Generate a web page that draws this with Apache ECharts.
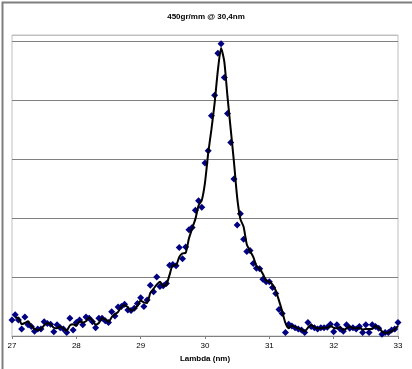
<!DOCTYPE html>
<html>
<head>
<meta charset="utf-8">
<script src="https://cdn.jsdelivr.net/npm/echarts@6/dist/echarts.min.js"></script>
<style>html,body{margin:0;padding:0;background:#fff}#c{width:412px;height:369px}</style>
</head>
<body>
<div id="c"></div>
<script>
var titleText = '450gr/mm @ 30,4nm';
var xAxisName = 'Lambda (nm)';
var xTicks = [27, 28, 29, 30, 31, 32, 33];

var lambda = [
27.00,27.05,27.10,27.15,27.20,27.25,27.30,27.35,27.40,27.45,
27.50,27.55,27.60,27.65,27.70,27.75,27.80,27.85,27.90,27.95,
28.00,28.05,28.10,28.15,28.20,28.25,28.30,28.35,28.40,28.45,
28.50,28.55,28.60,28.65,28.70,28.75,28.80,28.85,28.90,28.95,
29.00,29.05,29.10,29.15,29.20,29.25,29.30,29.35,29.40,29.45,
29.50,29.55,29.60,29.65,29.70,29.75,29.80,29.85,29.90,29.95,
30.00,30.05,30.10,30.15,30.20,30.25,30.30,30.35,30.40,30.45,
30.50,30.55,30.60,30.65,30.70,30.75,30.80,30.85,30.90,30.95,
31.00,31.05,31.10,31.15,31.20,31.25,31.30,31.35,31.40,31.45,
31.50,31.55,31.60,31.65,31.70,31.75,31.80,31.85,31.90,31.95,
32.00,32.05,32.10,32.15,32.20,32.25,32.30,32.35,32.40,32.45,
32.50,32.55,32.60,32.65,32.70,32.75,32.80,32.85,32.90,32.95,
33.00
];

var measured = [
0.27,0.36,0.27,0.12,0.32,0.19,0.16,0.08,0.12,0.12,
0.24,0.21,0.20,0.07,0.19,0.14,0.12,0.06,0.30,0.10,
0.23,0.27,0.19,0.32,0.30,0.24,0.14,0.30,0.30,0.26,
0.23,0.41,0.34,0.49,0.50,0.54,0.44,0.43,0.47,0.55,
0.65,0.50,0.61,0.86,0.75,1.00,0.84,0.85,0.89,1.20,
1.21,1.19,1.50,1.31,1.51,1.80,1.84,2.13,2.29,2.18,
2.93,3.14,3.73,4.08,4.79,4.95,4.38,3.77,3.28,2.66,
1.88,2.07,1.64,1.43,1.45,1.23,1.15,1.14,0.96,0.92,
0.92,0.82,0.72,0.45,0.38,0.06,0.20,0.17,0.14,0.12,
0.10,0.06,0.23,0.16,0.14,0.12,0.14,0.14,0.15,0.20,
0.07,0.19,0.12,0.08,0.19,0.13,0.14,0.12,0.16,0.06,
0.19,0.06,0.19,0.16,0.13,0.03,0.06,0.06,0.10,0.12,
0.23
];

var fitLambda = lambda.slice(1);
var fit = [
0.31,0.31,0.20,0.22,0.25,0.17,0.12,0.10,0.12,
0.18,0.22,0.20,0.14,0.13,0.16,0.13,0.09,0.18,0.20,
0.17,0.25,0.23,0.25,0.31,0.27,0.19,0.22,0.30,0.28,
0.24,0.32,0.37,0.41,0.49,0.52,0.49,0.43,0.45,0.51,
0.60,0.57,0.56,0.73,0.80,0.87,0.92,0.85,0.87,1.04,
1.20,1.20,1.34,1.40,1.41,1.65,1.82,1.98,2.21,2.30,
2.60,3.10,3.50,3.95,4.50,4.88,4.65,4.05,3.50,2.95,
2.35,1.98,1.85,1.55,1.44,1.34,1.19,1.14,1.05,0.94,
0.92,0.87,0.77,0.60,0.42,0.22,0.13,0.18,0.15,0.13,
0.11,0.08,0.14,0.19,0.15,0.13,0.13,0.14,0.14,0.17,
0.14,0.13,0.15,0.10,0.13,0.16,0.13,0.13,0.14,0.11,
0.12,0.12,0.12,0.17,0.14,0.08,0.05,0.06,0.08,0.11,
0.17
];

var pts = lambda.map(function (x, i) { return [x, measured[i]]; });
var fitPts = fitLambda.map(function (x, i) { return [x, fit[i]]; });

var chart = echarts.init(document.getElementById('c'), null, {renderer: 'canvas'});
chart.setOption({
  animation: false,
  backgroundColor: '#ffffff',
  title: {
    text: titleText, left: 'center', top: 8,
    textStyle: {fontFamily: 'Liberation Sans', fontSize: 8, fontWeight: 'bold', color: '#000'}
  },
  graphic: [{
    type: 'rect', left: 0, top: 0, z: 100, silent: true,
    shape: {x: 0, y: 0, width: 411, height: 368},
    style: {fill: 'none', stroke: '#7f7f7f', lineWidth: 2}
  }],
  grid: {left: 12, right: 14, top: 35, bottom: 33, show: true, borderColor: '#c0c0c0', borderWidth: 1, backgroundColor: '#fff'},
  xAxis: {
    type: 'value', min: xTicks[0], max: xTicks[xTicks.length - 1], interval: 1,
    name: xAxisName, nameLocation: 'middle', nameGap: 17,
    nameTextStyle: {fontFamily: 'Liberation Sans', fontSize: 8, fontWeight: 'bold', color: '#000'},
    axisLine: {show: true, lineStyle: {color: '#808080', width: 1}},
    axisTick: {show: true, length: 3, lineStyle: {color: '#808080'}},
    axisLabel: {fontFamily: 'Liberation Sans', fontSize: 8, color: '#000', margin: 6},
    splitLine: {show: false}
  },
  yAxis: {
    type: 'value', min: 0, max: 5.1, interval: 1,
    axisLine: {show: false}, axisTick: {show: false}, axisLabel: {show: false},
    splitLine: {show: true, lineStyle: {color: ['#808080','#808080','#808080','#808080','#808080','#808080','#c0c0c0'], width: 1}}
  },
  series: [{
    type: 'scatter', data: pts, symbol: 'diamond', symbolSize: 7,
    itemStyle: {color: '#000080', opacity: 1}, z: 2
  }, {
    type: 'line', data: fitPts, showSymbol: false, smooth: 0.2,
    lineStyle: {color: '#000000', width: 2}, z: 3
  }]
});
</script>
</body>
</html>
